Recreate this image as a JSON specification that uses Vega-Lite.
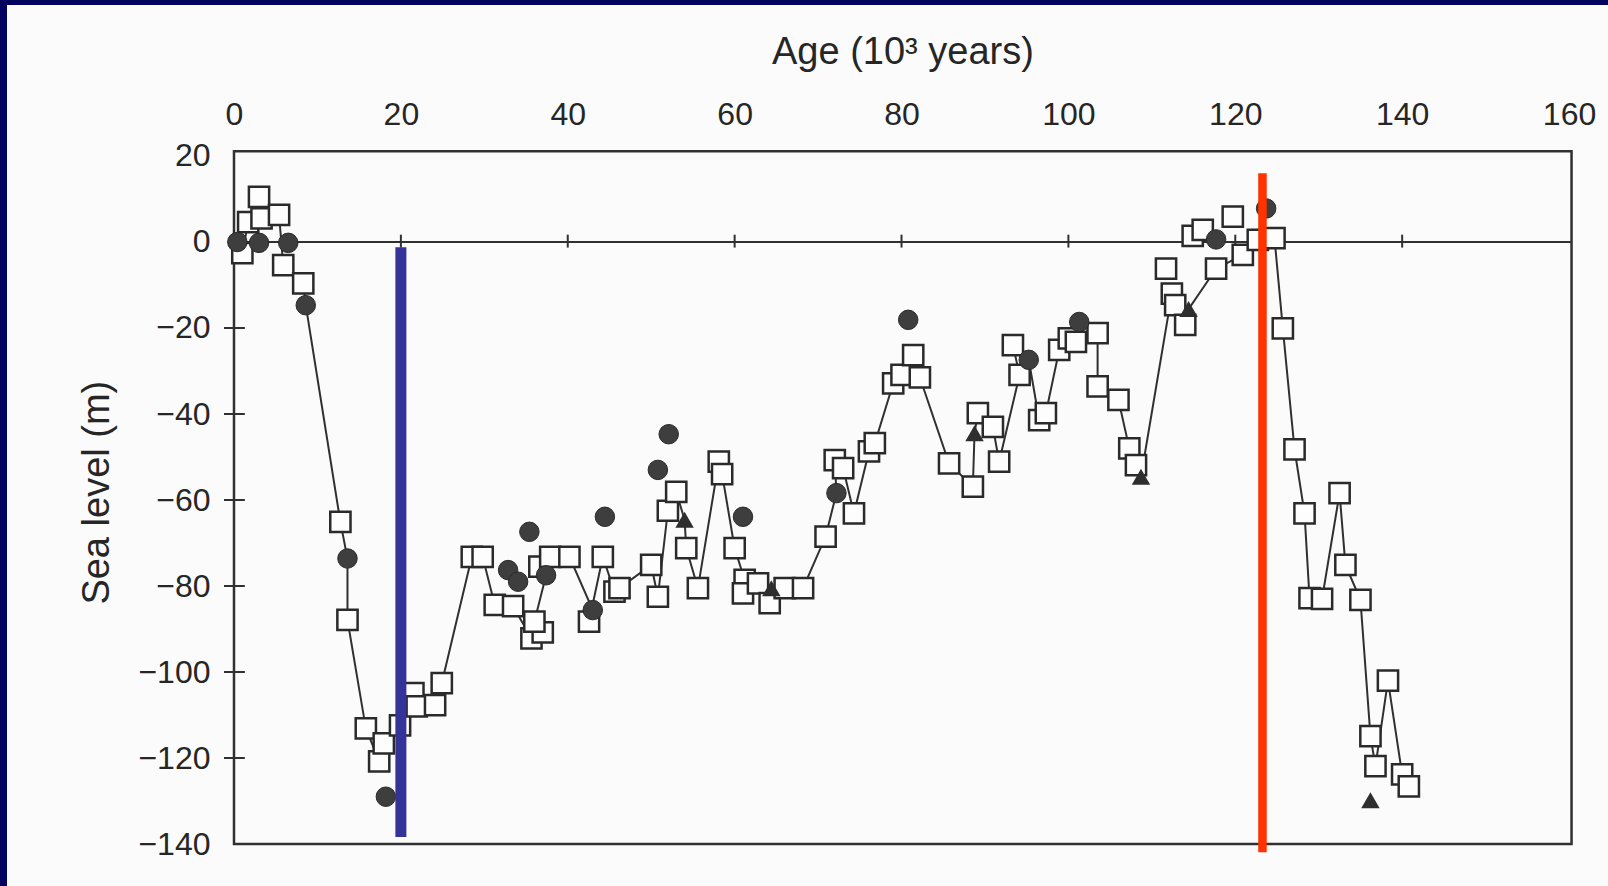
{
  "$schema": "https://vega.github.io/schema/vega-lite/v6.json",
  "width": 1601,
  "height": 881,
  "autosize": {"type": "none"},
  "padding": {"left": 7, "top": 5, "right": 0, "bottom": 0},
  "background": "#03035f",
  "config": {
    "view": {"fill": "#fbfbfb", "stroke": null},
    "font": "Liberation Sans",
    "axis": {
      "grid": false, "domain": false, "ticks": false, "tickSize": 0,
      "labelFont": "Liberation Sans", "labelFontSize": 32, "labelColor": "#262626",
      "titleFont": "Liberation Sans", "titleFontSize": 38, "titleFontWeight": "normal", "titleColor": "#262626",
      "labelFlush": false, "labelOverlap": false
    }
  },
  "datasets": {
    "pts": [
      {"seq": 1, "age": 1.0, "level": -2.6, "kind": "square", "line": 1},
      {"seq": 2, "age": 1.7, "level": 4.6, "kind": "square", "line": 1},
      {"seq": 3, "age": 3.0, "level": 10.5, "kind": "square", "line": 1},
      {"seq": 4, "age": 3.3, "level": 5.5, "kind": "square", "line": 1},
      {"seq": 5, "age": 5.4, "level": 6.3, "kind": "square", "line": 1},
      {"seq": 6, "age": 5.9, "level": -5.4, "kind": "square", "line": 1},
      {"seq": 7, "age": 8.3, "level": -9.6, "kind": "square", "line": 1},
      {"seq": 8, "age": 8.6, "level": -14.7, "kind": "circle", "line": 1},
      {"seq": 9, "age": 12.75, "level": -65.1, "kind": "square", "line": 1},
      {"seq": 10, "age": 13.6, "level": -73.6, "kind": "circle", "line": 1},
      {"seq": 11, "age": 13.6, "level": -87.9, "kind": "square", "line": 1},
      {"seq": 12, "age": 15.8, "level": -113.1, "kind": "square", "line": 1},
      {"seq": 13, "age": 17.4, "level": -120.8, "kind": "square", "line": 1},
      {"seq": 14, "age": 17.95, "level": -116.6, "kind": "square", "line": 1},
      {"seq": 15, "age": 19.9, "level": -112.4, "kind": "square", "line": 1},
      {"seq": 16, "age": 21.5, "level": -104.9, "kind": "square", "line": 1},
      {"seq": 17, "age": 21.9, "level": -108.0, "kind": "square", "line": 1},
      {"seq": 18, "age": 24.1, "level": -107.7, "kind": "square", "line": 1},
      {"seq": 19, "age": 24.9, "level": -102.6, "kind": "square", "line": 1},
      {"seq": 20, "age": 28.5, "level": -73.2, "kind": "square", "line": 1},
      {"seq": 21, "age": 29.8, "level": -73.2, "kind": "square", "line": 1},
      {"seq": 22, "age": 31.25, "level": -84.4, "kind": "square", "line": 1},
      {"seq": 23, "age": 33.45, "level": -84.7, "kind": "square", "line": 1},
      {"seq": 24, "age": 35.65, "level": -92.2, "kind": "square", "line": 1},
      {"seq": 25, "age": 37.0, "level": -90.8, "kind": "square", "line": 1},
      {"seq": 26, "age": 36.0, "level": -88.3, "kind": "square", "line": 1},
      {"seq": 27, "age": 37.4, "level": -77.5, "kind": "circle", "line": 1},
      {"seq": 28, "age": 36.6, "level": -75.5, "kind": "square", "line": 1},
      {"seq": 29, "age": 37.9, "level": -73.2, "kind": "square", "line": 1},
      {"seq": 30, "age": 40.2, "level": -73.2, "kind": "square", "line": 1},
      {"seq": 31, "age": 43.0, "level": -85.6, "kind": "circle", "line": 1},
      {"seq": 32, "age": 42.55, "level": -88.3, "kind": "square", "line": 1},
      {"seq": 33, "age": 44.2, "level": -73.2, "kind": "square", "line": 1},
      {"seq": 34, "age": 45.6, "level": -81.3, "kind": "square", "line": 1},
      {"seq": 35, "age": 46.2, "level": -80.5, "kind": "square", "line": 1},
      {"seq": 36, "age": 50.0, "level": -75.1, "kind": "square", "line": 1},
      {"seq": 37, "age": 50.8, "level": -82.5, "kind": "square", "line": 1},
      {"seq": 38, "age": 52.0, "level": -62.5, "kind": "square", "line": 1},
      {"seq": 39, "age": 53.0, "level": -58.1, "kind": "square", "line": 1},
      {"seq": 40, "age": 54.0, "level": -64.6, "kind": "triangle", "line": 1},
      {"seq": 41, "age": 54.2, "level": -71.2, "kind": "square", "line": 1},
      {"seq": 42, "age": 55.6, "level": -80.5, "kind": "square", "line": 1},
      {"seq": 43, "age": 58.1, "level": -51.1, "kind": "square", "line": 1},
      {"seq": 44, "age": 58.5, "level": -54.0, "kind": "square", "line": 1},
      {"seq": 45, "age": 60.0, "level": -71.2, "kind": "square", "line": 1},
      {"seq": 46, "age": 61.2, "level": -78.6, "kind": "square", "line": 1},
      {"seq": 47, "age": 61.0, "level": -81.7, "kind": "square", "line": 1},
      {"seq": 48, "age": 62.8, "level": -79.4, "kind": "square", "line": 1},
      {"seq": 49, "age": 64.2, "level": -84.0, "kind": "square", "line": 1},
      {"seq": 50, "age": 64.4, "level": -80.5, "kind": "triangle", "line": 1},
      {"seq": 51, "age": 66.0, "level": -80.5, "kind": "square", "line": 1},
      {"seq": 52, "age": 68.2, "level": -80.5, "kind": "square", "line": 1},
      {"seq": 53, "age": 70.9, "level": -68.5, "kind": "square", "line": 1},
      {"seq": 54, "age": 72.2, "level": -58.4, "kind": "circle", "line": 1},
      {"seq": 55, "age": 72.0, "level": -50.7, "kind": "square", "line": 1},
      {"seq": 56, "age": 73.0, "level": -52.6, "kind": "square", "line": 1},
      {"seq": 57, "age": 74.3, "level": -63.1, "kind": "square", "line": 1},
      {"seq": 58, "age": 76.1, "level": -48.7, "kind": "square", "line": 1},
      {"seq": 59, "age": 76.8, "level": -46.8, "kind": "square", "line": 1},
      {"seq": 60, "age": 79.0, "level": -32.9, "kind": "square", "line": 1},
      {"seq": 61, "age": 80.0, "level": -30.9, "kind": "square", "line": 1},
      {"seq": 62, "age": 81.4, "level": -26.3, "kind": "square", "line": 1},
      {"seq": 63, "age": 82.2, "level": -31.5, "kind": "square", "line": 1},
      {"seq": 64, "age": 85.7, "level": -51.5, "kind": "square", "line": 1},
      {"seq": 65, "age": 88.55, "level": -56.9, "kind": "square", "line": 1},
      {"seq": 66, "age": 88.75, "level": -44.5, "kind": "triangle", "line": 1},
      {"seq": 67, "age": 89.15, "level": -39.8, "kind": "square", "line": 1},
      {"seq": 68, "age": 90.95, "level": -43.0, "kind": "square", "line": 1},
      {"seq": 69, "age": 91.7, "level": -51.1, "kind": "square", "line": 1},
      {"seq": 70, "age": 94.15, "level": -30.9, "kind": "square", "line": 1},
      {"seq": 71, "age": 93.35, "level": -24.0, "kind": "square", "line": 1},
      {"seq": 72, "age": 95.25, "level": -27.4, "kind": "circle", "line": 1},
      {"seq": 73, "age": 96.5, "level": -41.4, "kind": "square", "line": 1},
      {"seq": 74, "age": 97.3, "level": -39.8, "kind": "square", "line": 1},
      {"seq": 75, "age": 98.9, "level": -25.1, "kind": "square", "line": 1},
      {"seq": 76, "age": 100.05, "level": -22.4, "kind": "square", "line": 1},
      {"seq": 77, "age": 100.9, "level": -23.2, "kind": "square", "line": 1},
      {"seq": 78, "age": 101.3, "level": -18.6, "kind": "circle", "line": 1},
      {"seq": 79, "age": 103.5, "level": -21.2, "kind": "square", "line": 1},
      {"seq": 80, "age": 103.5, "level": -33.6, "kind": "square", "line": 1},
      {"seq": 81, "age": 106.0, "level": -36.7, "kind": "square", "line": 1},
      {"seq": 82, "age": 107.3, "level": -48.0, "kind": "square", "line": 1},
      {"seq": 83, "age": 108.1, "level": -51.9, "kind": "square", "line": 1},
      {"seq": 84, "age": 108.7, "level": -54.6, "kind": "triangle", "line": 1},
      {"seq": 85, "age": 112.4, "level": -12.0, "kind": "square", "line": 1},
      {"seq": 86, "age": 112.8, "level": -14.7, "kind": "square", "line": 1},
      {"seq": 87, "age": 114.0, "level": -19.3, "kind": "square", "line": 1},
      {"seq": 88, "age": 114.4, "level": -15.6, "kind": "triangle", "line": 1},
      {"seq": 89, "age": 117.7, "level": -6.2, "kind": "square", "line": 1},
      {"seq": 90, "age": 120.9, "level": -3.0, "kind": "square", "line": 1},
      {"seq": 91, "age": 122.7, "level": 0.5, "kind": "square", "line": 1},
      {"seq": 92, "age": 124.7, "level": 0.9, "kind": "square", "line": 1},
      {"seq": 93, "age": 125.7, "level": -20.1, "kind": "square", "line": 1},
      {"seq": 94, "age": 127.1, "level": -48.2, "kind": "square", "line": 1},
      {"seq": 95, "age": 128.3, "level": -63.1, "kind": "square", "line": 1},
      {"seq": 96, "age": 128.9, "level": -82.8, "kind": "square", "line": 1},
      {"seq": 97, "age": 130.4, "level": -83.0, "kind": "square", "line": 1},
      {"seq": 98, "age": 132.5, "level": -58.4, "kind": "square", "line": 1},
      {"seq": 99, "age": 133.2, "level": -75.1, "kind": "square", "line": 1},
      {"seq": 100, "age": 135.0, "level": -83.2, "kind": "square", "line": 1},
      {"seq": 101, "age": 136.2, "level": -114.9, "kind": "square", "line": 1},
      {"seq": 102, "age": 136.8, "level": -121.9, "kind": "square", "line": 1},
      {"seq": 103, "age": 138.3, "level": -102.0, "kind": "square", "line": 1},
      {"seq": 104, "age": 140.0, "level": -123.8, "kind": "square", "line": 1},
      {"seq": 105, "age": 140.8, "level": -126.6, "kind": "square", "line": 1},
      {"seq": 0, "age": 0.4, "level": 0.0, "kind": "circle", "line": 0},
      {"seq": 0, "age": 3.0, "level": -0.2, "kind": "circle", "line": 0},
      {"seq": 0, "age": 6.5, "level": -0.2, "kind": "circle", "line": 0},
      {"seq": 0, "age": 18.2, "level": -129.0, "kind": "circle", "line": 0},
      {"seq": 0, "age": 32.85, "level": -76.3, "kind": "circle", "line": 0},
      {"seq": 0, "age": 34.05, "level": -79.0, "kind": "circle", "line": 0},
      {"seq": 0, "age": 35.4, "level": -67.4, "kind": "circle", "line": 0},
      {"seq": 0, "age": 44.45, "level": -63.9, "kind": "circle", "line": 0},
      {"seq": 0, "age": 50.8, "level": -53.0, "kind": "circle", "line": 0},
      {"seq": 0, "age": 52.1, "level": -44.7, "kind": "circle", "line": 0},
      {"seq": 0, "age": 61.0, "level": -63.9, "kind": "circle", "line": 0},
      {"seq": 0, "age": 80.8, "level": -18.1, "kind": "circle", "line": 0},
      {"seq": 0, "age": 117.7, "level": 0.6, "kind": "circle", "line": 0},
      {"seq": 0, "age": 123.7, "level": 7.8, "kind": "circle", "line": 0},
      {"seq": 0, "age": 111.7, "level": -6.2, "kind": "square", "line": 0},
      {"seq": 0, "age": 114.9, "level": 1.4, "kind": "square", "line": 0},
      {"seq": 0, "age": 116.1, "level": 2.8, "kind": "square", "line": 0},
      {"seq": 0, "age": 119.7, "level": 5.9, "kind": "square", "line": 0},
      {"seq": 0, "age": 136.2, "level": -129.8, "kind": "triangle", "line": 0}
    ],
    "yticks": [{"level": -20}, {"level": -40}, {"level": -60}, {"level": -80}, {"level": -100}, {"level": -120}],
    "xticks": [{"age": 20}, {"age": 40}, {"age": 60}, {"age": 80}, {"age": 100}, {"age": 120}, {"age": 140}],
    "marks": [
      {"name": "LGM", "age": 20.0, "top": -1.2, "bottom": -138.4},
      {"name": "LIG", "age": 123.26, "top": 16.0, "bottom": -141.9}
    ]
  },
  "layer": [
    {
      "data": {"name": "pts"},
      "transform": [{"filter": "datum.line == 1"}],
      "mark": {"type": "line", "color": "#303030", "strokeWidth": 2},
      "encoding": {
        "x": {"field": "age", "type": "quantitative", "scale": {"domain": [-27.205, 164.67], "nice": false, "zero": false},
          "axis": {"orient": "top", "values": [0, 20, 40, 60, 80, 100, 120, 140, 160], "offset": -147, "labelPadding": 20.5,
            "title": "Age (10³ years)", "titleX": 895.4, "titleY": -88.7, "titleBaseline": "alphabetic", "titleAlign": "center"}},
        "y": {"field": "level", "type": "quantitative", "scale": {"domain": [-149.767, 55.116], "nice": false, "zero": false},
          "axis": {"orient": "left", "values": [20, 0, -20, -40, -60, -80, -100, -120, -140], "offset": -227, "labelPadding": 24,
            "title": "Sea level (m)", "titleX": -125.1, "titleY": 487.2, "titleBaseline": "alphabetic", "titleAngle": 270, "titleAlign": "center"}},
        "order": {"field": "seq", "type": "quantitative"}
      }
    },
    {
      "data": {"values": [{}]},
      "mark": {"type": "rect", "fill": "transparent", "stroke": "#303030", "strokeWidth": 2.5},
      "encoding": {
        "x": {"datum": 0, "type": "quantitative"},
        "x2": {"datum": 160.3},
        "y": {"datum": -140, "type": "quantitative"},
        "y2": {"datum": 21.1}
      }
    },
    {
      "data": {"values": [{}]},
      "mark": {"type": "rule", "color": "#303030", "strokeWidth": 2},
      "encoding": {
        "x": {"datum": 0, "type": "quantitative"},
        "x2": {"datum": 160.3},
        "y": {"datum": 0, "type": "quantitative"}
      }
    },
    {
      "data": {"name": "yticks"},
      "mark": {"type": "rule", "color": "#303030", "strokeWidth": 2},
      "encoding": {
        "x": {"datum": -1.2, "type": "quantitative", "scale": {"domain": [-27.205, 164.67], "nice": false, "zero": false}},
        "x2": {"datum": 1.3},
        "y": {"field": "level", "type": "quantitative", "scale": {"domain": [-149.767, 55.116], "nice": false, "zero": false}}
      }
    },
    {
      "data": {"name": "xticks"},
      "mark": {"type": "rule", "color": "#303030", "strokeWidth": 2},
      "encoding": {
        "x": {"field": "age", "type": "quantitative"},
        "y": {"datum": 1.7, "type": "quantitative"},
        "y2": {"datum": -1.3}
      }
    },
    {
      "data": {"name": "pts"},
      "transform": [{"filter": "datum.kind == 'square'"}],
      "mark": {"type": "square", "fill": "#fdfdfd", "stroke": "#2a2a2a", "strokeWidth": 2.5, "size": 410, "opacity": 1},
      "encoding": {
        "x": {"field": "age", "type": "quantitative"},
        "y": {"field": "level", "type": "quantitative"}
      }
    },
    {
      "data": {"name": "pts"},
      "transform": [{"filter": "datum.kind == 'circle'"}],
      "mark": {"type": "circle", "fill": "#3e3e3e", "stroke": "#2a2a2a", "strokeWidth": 1, "size": 380, "opacity": 1},
      "encoding": {
        "x": {"field": "age", "type": "quantitative"},
        "y": {"field": "level", "type": "quantitative"}
      }
    },
    {
      "data": {"name": "pts"},
      "transform": [{"filter": "datum.kind == 'triangle'"}],
      "mark": {"type": "point", "shape": "triangle-up", "filled": true, "color": "#2e2e2e", "size": 340, "opacity": 1},
      "encoding": {
        "x": {"field": "age", "type": "quantitative"},
        "y": {"field": "level", "type": "quantitative"}
      }
    },
    {
      "data": {"name": "marks"},
      "transform": [{"filter": "datum.name == 'LGM'"}],
      "mark": {"type": "rule", "color": "#333399", "strokeWidth": 11},
      "encoding": {
        "x": {"field": "age", "type": "quantitative"},
        "y": {"field": "top", "type": "quantitative"},
        "y2": {"field": "bottom"}
      }
    },
    {
      "data": {"name": "marks"},
      "transform": [{"filter": "datum.name == 'LIG'"}],
      "mark": {"type": "rule", "color": "#ff3300", "strokeWidth": 8.5},
      "encoding": {
        "x": {"field": "age", "type": "quantitative"},
        "y": {"field": "top", "type": "quantitative"},
        "y2": {"field": "bottom"}
      }
    }
  ]
}
